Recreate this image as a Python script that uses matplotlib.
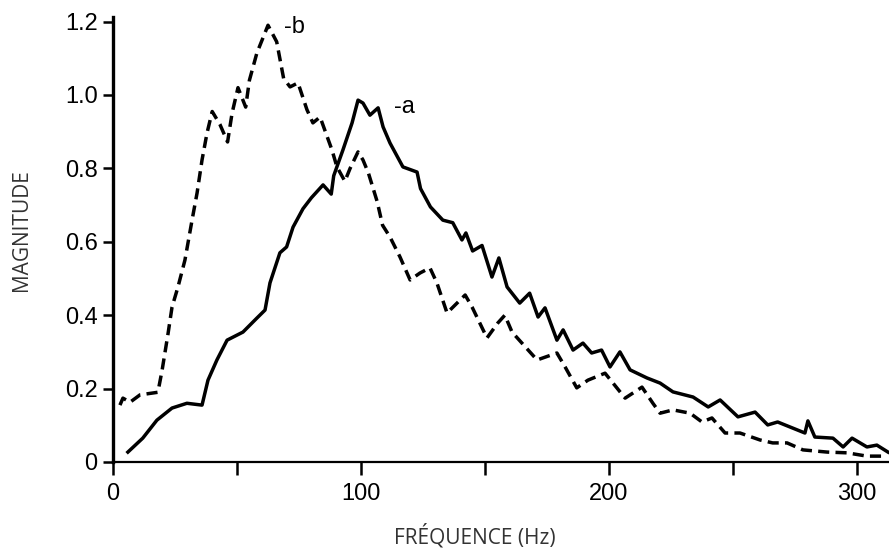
import matplotlib
matplotlib.use('Agg')
import matplotlib.pyplot as plt

# Curve a (solid)
freq_a = [6, 12, 17.7, 23.8, 29.8, 35.9, 38.3, 41.9, 46, 52.4, 58, 61.3, 63.3, 67.3, 70,
          72.6, 76.6, 80, 84.7, 88.0, 89, 92.7, 96.4, 98.8, 100.8, 103.6, 106.9, 108.9,
          111.7, 116.9, 122.6, 124, 128, 133, 137, 140.7, 142.3, 145, 148.8, 152.8, 155.6,
          158.9, 164, 168, 171.4, 174.2, 179, 181.5, 185.5, 189.5, 193, 197, 200.4, 204.4,
          208.5, 215.3, 220.6, 225.8, 233.9, 240, 244.8, 252, 258.9, 264, 268, 279, 280.2,
          283, 290.3, 294.4, 298, 304, 308, 312.5]
mag_a = [0.027, 0.065, 0.114, 0.147, 0.16, 0.155, 0.223, 0.278, 0.332, 0.354, 0.392, 0.414,
         0.488, 0.57, 0.586, 0.64, 0.69, 0.72, 0.755, 0.73, 0.78, 0.85, 0.924, 0.986, 0.978,
         0.945, 0.965, 0.913, 0.869, 0.804, 0.79, 0.745, 0.695, 0.659, 0.652, 0.605, 0.624,
         0.575, 0.59, 0.504, 0.556, 0.477, 0.433, 0.46, 0.395, 0.42, 0.332, 0.36, 0.305,
         0.324, 0.297, 0.305, 0.259, 0.3, 0.251, 0.229, 0.215, 0.191, 0.177, 0.15, 0.169,
         0.123, 0.136, 0.101, 0.109, 0.079, 0.112, 0.068, 0.065, 0.041, 0.065, 0.041, 0.046,
         0.027]

# Curve b (dashed)
freq_b = [2.8, 4, 6.9, 10.9, 18.1, 19.8, 22.2, 23.8, 26.2, 29, 31.9, 33.9, 35.9, 37.9, 40,
          43.1, 46.2, 48, 50.4, 53.5, 55, 58, 62.5, 66, 68.8, 71.4, 74.6, 78.2, 80.6, 83.5,
          88.3, 90.3, 93.5, 95.6, 98.8, 100.8, 103, 106.5, 108.7, 111.7, 115.7, 119.8, 123.8,
          127.8, 130.6, 134.7, 142, 144.8, 150.8, 155.2, 158, 160.9, 171, 179, 182.3, 187,
          191.5, 198.4, 206.5, 213.3, 217.7, 220.6, 225.8, 232.7, 237.5, 241.5, 246.8, 252.8,
          260.9, 266, 271.8, 278.2, 288, 296, 304, 310]
mag_b = [0.155, 0.174, 0.163, 0.183, 0.19, 0.25, 0.35, 0.422, 0.477, 0.55, 0.66, 0.733, 0.823,
         0.896, 0.955, 0.92, 0.872, 0.95, 1.02, 0.967, 1.04, 1.114, 1.19, 1.145, 1.045, 1.022,
         1.033, 0.96, 0.924, 0.94, 0.85, 0.804, 0.765, 0.8, 0.845, 0.823, 0.787, 0.71, 0.645,
         0.613, 0.559, 0.496, 0.515, 0.529, 0.488, 0.406, 0.455, 0.422, 0.338, 0.379, 0.4,
         0.354, 0.278, 0.297, 0.259, 0.202, 0.223, 0.242, 0.174, 0.204, 0.16, 0.133, 0.142,
         0.133, 0.109, 0.12, 0.079, 0.079, 0.06, 0.052, 0.052, 0.033, 0.027, 0.025, 0.016,
         0.016]

x_ticks = [0, 100, 200, 300]
x_minor = [50, 150, 250]
y_ticks = [0, 0.2, 0.4, 0.6, 0.8, 1.0, 1.2]
y_labels = ['0', '0.2', '0.4', '0.6', '0.8', '1.0', '1.2']

fig = plt.figure(figsize=(8.89, 5.48), dpi=100)
ax = fig.add_axes([113 / 889, 86 / 548, 776 / 889, 445 / 548])

ax.plot(freq_a, mag_a, color='black', lw=2.5, solid_joinstyle='round')
ax.plot(freq_b, mag_b, color='black', lw=2.5, linestyle=(0, (3.2, 1.8)))

ax.text(69.0, 1.185, '-b', fontsize=17, family='Liberation Sans', va='center', ha='left')
ax.text(113.5, 0.967, '-a', fontsize=17, family='Liberation Sans', va='center', ha='left')

ax.set_xlim(0, 312.9)
ax.set_ylim(0, 1.2125)

ax.spines['top'].set_visible(False)
ax.spines['right'].set_visible(False)
ax.spines['left'].set_linewidth(2.4)
ax.spines['bottom'].set_linewidth(1.6)

ax.set_xticks(x_ticks)
ax.set_xticks(x_minor, minor=True)
ax.set_yticks(y_ticks)
ax.set_yticklabels(y_labels)
ax.tick_params(axis='x', which='both', direction='out', length=9, width=1.8, pad=6,
               labelsize=17)
ax.tick_params(axis='y', direction='out', length=7, width=1.8, pad=4, labelsize=17)
for lab in ax.get_xticklabels() + ax.get_yticklabels():
    lab.set_family('Liberation Sans')

ax.set_xlabel('FRÉQUENCE (Hz)', fontsize=15, family='Open Sans', color='#333333')
ax.set_ylabel('MAGNITUDE', fontsize=15, family='Open Sans', color='#333333')
ax.xaxis.set_label_coords((474.5 - 113) / 776, -(536 - 462) / 445)
ax.yaxis.set_label_coords(-(113 - 22) / 776, (462 - 230) / 445)
ax.xaxis.label.set_va('center')
ax.yaxis.label.set_va('center')

fig.savefig('out.png', dpi=100)
